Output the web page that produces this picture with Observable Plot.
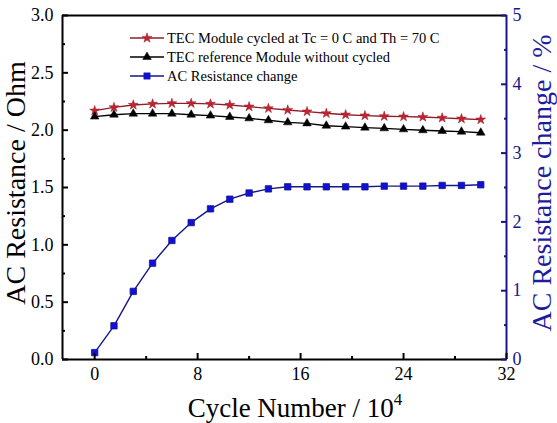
<!DOCTYPE html>
<html><head><meta charset="utf-8">
<script src="https://cdn.jsdelivr.net/npm/d3@7"></script>
<script src="https://cdn.jsdelivr.net/npm/@observablehq/plot@0.6"></script>
<style>body{margin:0;background:#fff;} #chart{width:557px;height:423px;overflow:hidden;}</style>
</head><body><div id="chart"></div>
<script>
// ---- data ----
const cycles = [0, 1.5, 3, 4.5, 6, 7.5, 9, 10.5, 12, 13.5, 15, 16.5, 18, 19.5, 21, 22.5, 24, 25.5, 27, 28.5, 30];
const cycledResistance = [2.170, 2.199, 2.220, 2.229, 2.234, 2.234, 2.229, 2.220, 2.205, 2.190, 2.176, 2.162, 2.147, 2.135, 2.127, 2.121, 2.118, 2.115, 2.107, 2.100, 2.092];
const referenceResistance = [2.118, 2.135, 2.144, 2.144, 2.144, 2.135, 2.127, 2.115, 2.103, 2.086, 2.068, 2.059, 2.039, 2.031, 2.022, 2.016, 2.007, 1.999, 1.993, 1.987, 1.978];
const resistanceChange = [0.10, 0.49, 0.99, 1.40, 1.73, 1.99, 2.19, 2.33, 2.42, 2.48, 2.51, 2.51, 2.51, 2.51, 2.51, 2.52, 2.52, 2.52, 2.53, 2.53, 2.54];
const seriesNames = ["TEC Module cycled at Tc = 0 C and Th = 70 C", "TEC reference Module without cycled", "AC Resistance change"];
const xTicks = [0, 8, 16, 24, 32];
const xMinorTicks = [4, 12, 20, 28];
const leftTicks = [0, 0.5, 1.0, 1.5, 2.0, 2.5, 3.0];
const leftMinorTicks = [0.25, 0.75, 1.25, 1.75, 2.25, 2.75];
const rightTicks = [0, 1, 2, 3, 4, 5];
const rightMinorTicks = [0.5, 1.5, 2.5, 3.5, 4.5];
const xDomain = [-2.5, 32];
const leftDomain = [0, 3];
const rightDomain = [0, 5];

// ---- derived ----
const k = leftDomain[1] / rightDomain[1];   // right (%) -> left (Ohm) scale factor
const rows = cycles.map((c, i) => ({c, red: cycledResistance[i], black: referenceResistance[i], blue: resistanceChange[i] * k}));

const RED_LINE = "#8e1f2a", RED_FILL = "#c8202e";
const NAVY = "#16168a", BLUE_FILL = "#1010d8";
const FONT = "Liberation Serif, Times New Roman, serif";
const STAR_R = 3.1, TRI_R = 3.2, SQ_R = 3.6;

const chart = Plot.plot({
  width: 557, height: 423,
  marginLeft: 62, marginRight: 51, marginTop: 15, marginBottom: 64,
  style: {fontFamily: FONT, fontSize: "18px", background: "transparent", overflow: "visible"},
  x: {domain: xDomain, label: null},
  y: {domain: leftDomain, label: null},
  marks: [
    // lines
    Plot.line(rows, {x: "c", y: "red", stroke: RED_LINE, strokeWidth: 1.4}),
    Plot.line(rows, {x: "c", y: "black", stroke: "black", strokeWidth: 1.4}),
    Plot.line(rows, {x: "c", y: "blue", stroke: NAVY, strokeWidth: 1.4}),
    // markers
    Plot.dot(rows, {x: "c", y: "red", symbol: "star", r: STAR_R, fill: RED_FILL, stroke: RED_LINE, strokeWidth: 0.5}),
    Plot.dot(rows, {x: "c", y: "black", symbol: "triangle", r: TRI_R, fill: "black", stroke: "black", strokeWidth: 0.5}),
    Plot.dot(rows, {x: "c", y: "blue", symbol: "square", r: SQ_R, fill: BLUE_FILL, stroke: NAVY, strokeWidth: 0.8}),
    // frame
    Plot.ruleY([leftDomain[0]], {stroke: "black", strokeWidth: 2}),
    Plot.ruleY([leftDomain[1]], {stroke: "black", strokeWidth: 2}),
    Plot.ruleX([xDomain[0]], {stroke: "black", strokeWidth: 2}),
    Plot.ruleX([xDomain[1]], {stroke: NAVY, strokeWidth: 2}),
    // axes (inward ticks)
    Plot.axisX({ticks: xTicks, tickSize: -6, tickPadding: 14, tickFormat: d => d, strokeWidth: 2, label: null}),
    Plot.axisX({ticks: xMinorTicks, tickSize: -3, tickFormat: () => "", strokeWidth: 2, label: null}),
    Plot.axisY({ticks: leftTicks, tickSize: -6, tickPadding: 15, tickFormat: d3.format(".1f"), strokeWidth: 2, label: null}),
    Plot.axisY({ticks: leftMinorTicks, tickSize: -3, tickFormat: () => "", strokeWidth: 2, label: null}),
    Plot.axisY({anchor: "right", ticks: rightTicks.map(v => v * k), tickSize: -6, tickPadding: 12, tickFormat: d => d3.format("d")(Math.round(d / k)), stroke: NAVY, color: NAVY, fill: NAVY, strokeWidth: 2, label: null}),
    Plot.axisY({anchor: "right", ticks: rightMinorTicks.map(v => v * k), tickSize: -3, tickFormat: () => "", stroke: NAVY, strokeWidth: 2, label: null})
  ]
});

const svg = d3.select(chart);

// legend
const legend = svg.append("g").attr("font-family", FONT).attr("font-size", 14.5).attr("text-anchor", "start");
const legendRows = [
  {name: seriesNames[0], stroke: RED_LINE, fill: RED_FILL, symbol: d3.symbolStar, size: STAR_R},
  {name: seriesNames[1], stroke: "black", fill: "black", symbol: d3.symbolTriangle, size: TRI_R},
  {name: seriesNames[2], stroke: NAVY, fill: BLUE_FILL, symbol: d3.symbolSquare, size: SQ_R}
];
legendRows.forEach((r, i) => {
  const y = 38 + i * 19;
  legend.append("line").attr("x1", 130).attr("x2", 164).attr("y1", y).attr("y2", y).attr("stroke", r.stroke).attr("stroke-width", 1.4);
  legend.append("path").attr("d", d3.symbol(r.symbol, Math.PI * r.size * r.size)()).attr("transform", `translate(147,${y})`).attr("fill", r.fill).attr("stroke", r.stroke).attr("stroke-width", 0.5);
  legend.append("text").attr("x", 167).attr("y", y).attr("dy", "0.35em").attr("fill", "black").text(r.name);
});

// axis titles
svg.append("text")
  .attr("transform", "translate(25,183) rotate(-90)")
  .attr("text-anchor", "middle").attr("font-family", FONT).attr("font-size", 28).attr("fill", "black")
  .text("AC Resistance / Ohm");
svg.append("text")
  .attr("transform", "translate(551,183) rotate(-90)")
  .attr("text-anchor", "middle").attr("font-family", FONT).attr("font-size", 28).attr("fill", "#1c1c9c")
  .text("AC Resistance change / %");
const xt = svg.append("text")
  .attr("x", 295).attr("y", 417).attr("text-anchor", "middle").attr("font-family", FONT).attr("font-size", 27).attr("fill", "black");
xt.append("tspan").text("Cycle Number / 10");
xt.append("tspan").attr("font-size", 17).attr("dy", -12).text("4");

document.getElementById("chart").appendChild(chart);
</script>
</body></html>
